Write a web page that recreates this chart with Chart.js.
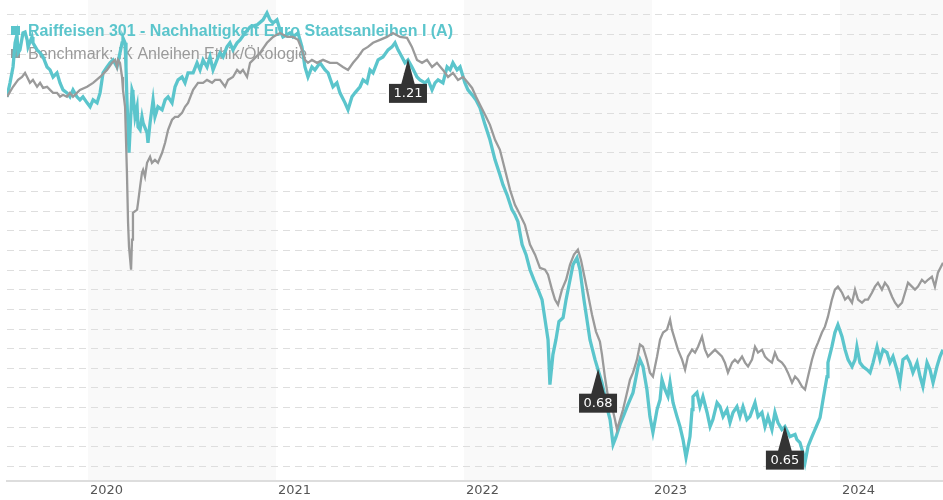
<!DOCTYPE html>
<html>
<head>
<meta charset="utf-8">
<title>Raiffeisen 301 - Nachhaltigkeit Euro Staatsanleihen I (A)</title>
<script src="https://cdn.jsdelivr.net/npm/chart.js@4.4.1/dist/chart.umd.min.js"></script>
<style>
  html, body { margin: 0; padding: 0; background: #fff; }
  #wrap { position: relative; width: 943px; height: 500px; }
</style>
</head>
<body>
<div id="wrap"><canvas id="perfChart"></canvas></div>
<script>
// performance in %, dates as decimal years
const fundName = 'Raiffeisen 301 - Nachhaltigkeit Euro Staatsanleihen I (A)';
const benchName = 'Benchmark: IX Anleihen Ethik/Ökologie';

const fundDates = [
  2019.569, 2019.585, 2019.601, 2019.612, 2019.622, 2019.628, 2019.638, 2019.654, 2019.665, 2019.676,
  2019.681, 2019.702, 2019.707, 2019.729, 2019.745, 2019.761, 2019.782, 2019.798, 2019.814, 2019.835,
  2019.851, 2019.867, 2019.888, 2019.904, 2019.920, 2019.941, 2019.957, 2019.973, 2019.995, 2020.011,
  2020.027, 2020.048, 2020.064, 2020.080, 2020.101, 2020.117, 2020.133, 2020.154, 2020.170, 2020.181,
  2020.186, 2020.197, 2020.202, 2020.207, 2020.218, 2020.229, 2020.234, 2020.239, 2020.250, 2020.261,
  2020.266, 2020.277, 2020.287, 2020.293, 2020.314, 2020.319, 2020.330, 2020.346, 2020.356, 2020.372,
  2020.394, 2020.410, 2020.426, 2020.447, 2020.463, 2020.479, 2020.500, 2020.516, 2020.532, 2020.559,
  2020.580, 2020.596, 2020.612, 2020.633, 2020.649, 2020.665, 2020.686, 2020.702, 2020.718, 2020.739,
  2020.755, 2020.771, 2020.793, 2020.809, 2020.835, 2020.862, 2020.899, 2020.931, 2020.952, 2020.968,
  2020.984, 2021.005, 2021.021, 2021.037, 2021.074, 2021.090, 2021.117, 2021.138, 2021.154, 2021.170,
  2021.191, 2021.207, 2021.234, 2021.261, 2021.277, 2021.303, 2021.324, 2021.340, 2021.367, 2021.383,
  2021.404, 2021.420, 2021.447, 2021.463, 2021.484, 2021.500, 2021.516, 2021.543, 2021.569, 2021.596,
  2021.617, 2021.633, 2021.649, 2021.670, 2021.686, 2021.702, 2021.723, 2021.750, 2021.766, 2021.793,
  2021.809, 2021.830, 2021.846, 2021.862, 2021.888, 2021.910, 2021.926, 2021.941, 2021.963, 2021.979,
  2022.005, 2022.021, 2022.043, 2022.064, 2022.085, 2022.112, 2022.138, 2022.165, 2022.191, 2022.207,
  2022.229, 2022.255, 2022.271, 2022.287, 2022.309, 2022.330, 2022.351, 2022.372, 2022.394, 2022.415,
  2022.431, 2022.447, 2022.457, 2022.473, 2022.489, 2022.505, 2022.527, 2022.543, 2022.564, 2022.580,
  2022.601, 2022.617, 2022.638, 2022.654, 2022.670, 2022.697, 2022.713, 2022.734, 2022.750, 2022.766,
  2022.777, 2022.793, 2022.809, 2022.830, 2022.851, 2022.872, 2022.899, 2022.926, 2022.936, 2022.952,
  2022.973, 2022.989, 2023.005, 2023.027, 2023.043, 2023.053, 2023.069, 2023.085, 2023.096, 2023.112,
  2023.133, 2023.149, 2023.165, 2023.181, 2023.202, 2023.213, 2023.218, 2023.239, 2023.255, 2023.271,
  2023.293, 2023.309, 2023.324, 2023.346, 2023.362, 2023.378, 2023.399, 2023.415, 2023.431, 2023.452,
  2023.468, 2023.484, 2023.505, 2023.521, 2023.548, 2023.564, 2023.585, 2023.601, 2023.617, 2023.638,
  2023.654, 2023.670, 2023.691, 2023.707, 2023.734, 2023.761, 2023.771, 2023.787, 2023.803, 2023.814,
  2023.830, 2023.851, 2023.867, 2023.883, 2023.894, 2023.910, 2023.931, 2023.936, 2023.957, 2023.973,
  2023.989, 2024.011, 2024.027, 2024.043, 2024.064, 2024.080, 2024.090, 2024.106, 2024.122, 2024.144,
  2024.160, 2024.176, 2024.197, 2024.213, 2024.229, 2024.250, 2024.266, 2024.282, 2024.303, 2024.319,
  2024.335, 2024.356, 2024.372, 2024.388, 2024.410, 2024.426, 2024.441, 2024.463, 2024.479, 2024.495,
  2024.516, 2024.532, 2024.548
];
const fundValues = [
  -0.17, 0.54, 1.35, 2.58, 2.98, 2.07, 2.22, 3.08, 3.13, 2.73,
  2.37, 2.88, 2.58, 2.22, 2.07, 1.86, 1.35, 1.20, 0.84, 1.05,
  0.54, 0.18, 0.03, -0.17, 0.18, -0.17, -0.33, -0.17, -0.48, -0.68,
  -0.33, -0.48, 0.03, 1.05, 1.35, 1.56, 1.71, 1.35, 2.07, 2.58,
  2.83, 2.58, 1.35, -0.33, -3.02, -0.83, 0.18, 0.03, -1.19, -0.68,
  -1.70, -1.85, -1.19, -1.50, -2.01, -2.51, -1.50, -0.33, -1.19, -0.68,
  -0.83, -0.33, -0.17, -0.48, 0.34, 0.69, 0.84, 0.54, 1.05, 1.05,
  1.56, 1.20, 1.71, 1.35, 1.86, 1.20, 1.71, 2.07, 1.86, 2.37,
  2.58, 2.22, 2.58, 2.73, 3.08, 3.39, 3.49, 3.75, 4.10, 3.75,
  3.59, 3.75, 3.24, 2.88, 3.08, 2.88, 3.08, 2.37, 1.35, 0.84,
  1.35, 1.20, 1.56, 1.20, 1.05, 0.34, 0.54, 0.03, -0.48, -0.83,
  -0.17, 0.03, 0.34, 0.69, 0.54, 1.20, 1.05, 1.71, 1.86, 2.22,
  2.37, 2.58, 2.22, 1.86, 1.56, 1.71, 1.35, 0.84, 0.69, 0.54,
  0.69, 0.18, 0.54, 0.69, 0.54, 1.35, 1.20, 1.56, 1.20, 1.35,
  0.54, 0.18, -0.07, -0.33, -0.73, -1.60, -2.36, -3.38, -4.14, -4.65,
  -5.16, -5.92, -6.18, -6.53, -7.70, -8.21, -8.98, -9.49, -9.99, -10.50,
  -11.52, -12.54, -14.83, -13.30, -12.54, -11.62, -11.42, -10.50, -9.49, -8.72,
  -8.37, -8.98, -10.50, -11.52, -12.54, -13.56, -14.07, -14.73, -15.44, -16.20,
  -16.61, -17.88, -17.48, -16.86, -16.36, -15.85, -15.24, -13.91, -13.56, -13.91,
  -15.08, -16.46, -17.27, -16.10, -15.59, -14.58, -15.08, -15.44, -14.73, -15.75,
  -16.46, -16.97, -17.63, -18.54, -17.48, -16.10, -15.44, -15.24, -15.95, -15.44,
  -16.25, -16.97, -16.61, -15.75, -15.95, -16.46, -16.10, -16.76, -16.25, -15.95,
  -16.46, -15.95, -16.61, -16.46, -15.75, -16.46, -16.25, -16.97, -16.46, -17.12,
  -16.25, -16.76, -17.12, -16.97, -17.48, -17.37, -17.63, -17.78, -18.29, -18.80,
  -17.98, -17.48, -17.12, -16.76, -16.51, -15.59, -14.42, -13.71, -12.90, -12.18,
  -11.78, -12.39, -13.05, -13.56, -13.91, -13.56, -12.90, -13.71, -13.91, -14.07,
  -14.22, -13.71, -12.90, -13.56, -13.05, -13.20, -13.71, -13.40, -14.07, -14.73,
  -13.56, -13.40, -13.71, -14.22, -13.71, -14.42, -14.93, -13.71, -14.07, -14.73,
  -13.91, -13.40, -13.05
];

const benchDates = [
  2019.569, 2019.601, 2019.628, 2019.649, 2019.665, 2019.676, 2019.691, 2019.707, 2019.729, 2019.745,
  2019.761, 2019.782, 2019.798, 2019.814, 2019.835, 2019.851, 2019.867, 2019.888, 2019.904, 2019.920,
  2019.941, 2019.957, 2019.995, 2020.027, 2020.064, 2020.101, 2020.128, 2020.144, 2020.154, 2020.160,
  2020.170, 2020.181, 2020.186, 2020.197, 2020.207, 2020.213, 2020.218, 2020.229, 2020.234, 2020.239,
  2020.261, 2020.266, 2020.277, 2020.287, 2020.293, 2020.303, 2020.314, 2020.330, 2020.340, 2020.356,
  2020.372, 2020.394, 2020.410, 2020.426, 2020.447, 2020.463, 2020.479, 2020.500, 2020.516, 2020.532,
  2020.559, 2020.585, 2020.612, 2020.633, 2020.660, 2020.676, 2020.702, 2020.729, 2020.745, 2020.771,
  2020.793, 2020.809, 2020.824, 2020.846, 2020.862, 2020.878, 2020.915, 2020.952, 2020.984, 2021.021,
  2021.059, 2021.090, 2021.117, 2021.138, 2021.154, 2021.170, 2021.191, 2021.218, 2021.250, 2021.287,
  2021.324, 2021.356, 2021.383, 2021.410, 2021.436, 2021.463, 2021.489, 2021.516, 2021.553, 2021.590,
  2021.622, 2021.660, 2021.697, 2021.723, 2021.750, 2021.777, 2021.803, 2021.830, 2021.856, 2021.888,
  2021.915, 2021.941, 2021.968, 2021.995, 2022.021, 2022.043, 2022.064, 2022.085, 2022.112, 2022.138,
  2022.165, 2022.191, 2022.218, 2022.245, 2022.271, 2022.298, 2022.324, 2022.351, 2022.378, 2022.404,
  2022.431, 2022.447, 2022.468, 2022.484, 2022.500, 2022.521, 2022.543, 2022.564, 2022.585, 2022.606,
  2022.622, 2022.644, 2022.660, 2022.681, 2022.702, 2022.723, 2022.734, 2022.750, 2022.766, 2022.787,
  2022.803, 2022.814, 2022.830, 2022.846, 2022.867, 2022.883, 2022.899, 2022.920, 2022.936, 2022.952,
  2022.973, 2022.989, 2023.005, 2023.027, 2023.043, 2023.059, 2023.080, 2023.096, 2023.106, 2023.122,
  2023.138, 2023.160, 2023.176, 2023.191, 2023.213, 2023.229, 2023.245, 2023.266, 2023.282, 2023.298,
  2023.319, 2023.335, 2023.351, 2023.372, 2023.388, 2023.404, 2023.426, 2023.441, 2023.457, 2023.479,
  2023.495, 2023.511, 2023.532, 2023.548, 2023.564, 2023.585, 2023.601, 2023.617, 2023.638, 2023.654,
  2023.670, 2023.691, 2023.707, 2023.723, 2023.745, 2023.761, 2023.777, 2023.798, 2023.814, 2023.830,
  2023.851, 2023.867, 2023.883, 2023.904, 2023.920, 2023.936, 2023.957, 2023.973, 2023.989, 2024.011,
  2024.027, 2024.043, 2024.064, 2024.080, 2024.096, 2024.117, 2024.133, 2024.149, 2024.170, 2024.186,
  2024.202, 2024.223, 2024.239, 2024.255, 2024.277, 2024.293, 2024.309, 2024.330, 2024.346, 2024.362,
  2024.383, 2024.399, 2024.415, 2024.436, 2024.452, 2024.468, 2024.489, 2024.505, 2024.521, 2024.548
];
const benchValues = [
  -0.17, 0.34, 0.69, 0.84, 1.05, 0.84, 0.54, 0.69, 0.34, 0.54,
  0.28, 0.34, 0.18, 0.03, 0.03, -0.17, -0.07, -0.17, 0.03, -0.17,
  0.03, 0.18, 0.34, 0.54, 0.84, 1.20, 1.56, 1.71, 1.35, 1.71,
  1.56, 0.84, 0.18, -0.68, -4.04, -6.59, -7.81, -8.98, -7.45, -6.08,
  -5.92, -5.57, -4.75, -4.04, -3.89, -4.24, -3.53, -3.23, -3.53, -3.38,
  -3.53, -3.02, -2.51, -1.85, -1.34, -1.19, -1.19, -0.99, -0.68, -0.48,
  0.18, 0.54, 0.54, 0.69, 0.54, 0.69, 0.69, 0.34, 0.69, 0.84,
  1.20, 1.05, 1.20, 0.84, 1.56, 1.71, 2.07, 2.58, 2.88, 3.08,
  2.88, 2.88, 2.73, 2.22, 1.71, 1.56, 1.71, 1.56, 1.71, 1.56,
  1.56, 1.35, 1.20, 1.56, 1.86, 2.22, 2.37, 2.58, 2.73, 2.88,
  3.08, 2.88, 2.83, 2.37, 1.71, 1.56, 1.71, 1.35, 1.56, 1.20,
  0.84, 1.05, 0.69, 0.84, 0.54, 0.28, -0.17, -0.58, -1.09, -1.60,
  -2.36, -2.87, -3.89, -4.91, -5.67, -6.18, -6.69, -7.70, -8.21, -8.88,
  -8.98, -9.23, -9.99, -10.50, -10.76, -9.99, -9.49, -8.72, -8.21, -7.96,
  -8.47, -9.49, -10.25, -11.27, -12.13, -12.64, -13.30, -14.47, -15.44, -15.95,
  -16.61, -17.12, -16.61, -16.10, -15.24, -14.58, -14.22, -13.56, -12.79, -12.90,
  -13.56, -14.22, -14.42, -13.40, -12.54, -12.18, -12.03, -11.52, -12.03, -12.54,
  -13.05, -13.56, -14.07, -13.40, -13.05, -13.20, -12.90, -12.39, -13.05, -13.40,
  -13.20, -13.05, -13.20, -13.40, -13.71, -14.22, -13.71, -13.56, -13.71, -13.40,
  -13.71, -13.91, -13.56, -12.90, -13.20, -13.05, -13.40, -13.56, -13.71, -13.20,
  -13.56, -13.71, -13.91, -14.22, -14.73, -14.42, -14.58, -14.93, -15.08, -14.42,
  -13.56, -13.05, -12.69, -12.18, -11.88, -11.37, -10.50, -9.99, -9.84, -10.15,
  -10.50, -10.35, -10.66, -9.99, -10.50, -10.66, -10.50, -10.50, -10.15, -9.84,
  -9.64, -9.99, -9.64, -9.84, -10.35, -10.66, -10.86, -10.66, -10.15, -9.64,
  -9.84, -9.99, -9.84, -9.49, -9.64, -9.49, -9.33, -9.84, -9.13, -8.62
];

// distribution markers on the fund line
const markerDates = [2021.702, 2022.713, 2023.707];
const markerLabels = ['1.21', '0.68', '0.65'];

const yearTicks = [2020, 2021, 2022, 2023, 2024];
const shadedYears = [2020, 2022, 2024];
const gridValues = [];
for (let v = -19; v <= 4; v++) gridValues.push(v);

const fundColor = '#5bc5cc';
const benchColor = '#9a9a9a';

function toPoints(dates, values) {
  return dates.map((d, i) => ({ x: d, y: values[i] }));
}

function fundValueAt(date) {
  let best = 0;
  fundDates.forEach((d, i) => {
    if (Math.abs(d - date) < Math.abs(fundDates[best] - date)) best = i;
  });
  return fundValues[best];
}

const yearBands = {
  id: 'yearBands',
  beforeDraw(chart) {
    const { ctx, chartArea, scales: { x } } = chart;
    ctx.save();
    ctx.fillStyle = '#f9f9f9';
    shadedYears.forEach(year => {
      const left = Math.max(x.getPixelForValue(year), chartArea.left);
      const right = Math.min(x.getPixelForValue(year + 1), chartArea.right);
      if (right > left) {
        ctx.fillRect(left, chartArea.top, right - left, chartArea.bottom - chartArea.top);
      }
    });
    ctx.restore();
  }
};

const seriesLegend = {
  id: 'seriesLegend',
  beforeDatasetsDraw(chart) {
    const ctx = chart.ctx;
    const rows = [
      { text: fundName, color: fundColor, font: 'bold 16px "Liberation Sans", Arial, sans-serif', y: 36 },
      { text: benchName, color: benchColor, font: '16px "Liberation Sans", Arial, sans-serif', y: 59 }
    ];
    ctx.save();
    ctx.textBaseline = 'alphabetic';
    ctx.textAlign = 'left';
    rows.forEach(r => {
      ctx.fillStyle = r.color;
      ctx.fillRect(11, r.y - 10, 9, 9);
      ctx.font = r.font;
      ctx.fillText(r.text, 28, r.y);
    });
    ctx.restore();
  }
};

const dividendMarkers = {
  id: 'dividendMarkers',
  afterDatasetsDraw(chart) {
    const { ctx, scales: { x, y } } = chart;
    ctx.save();
    ctx.font = '13px "DejaVu Sans", sans-serif';
    ctx.textAlign = 'center';
    ctx.textBaseline = 'middle';
    markerDates.forEach((date, i) => {
      const px = x.getPixelForValue(date);
      const tip = y.getPixelForValue(fundValueAt(date)) - 1;
      const boxTop = tip + 25;
      ctx.fillStyle = '#333333';
      ctx.beginPath();
      ctx.moveTo(px, tip);
      ctx.lineTo(px + 7, boxTop + 1);
      ctx.lineTo(px - 7, boxTop + 1);
      ctx.closePath();
      ctx.fill();
      ctx.fillRect(px - 19, boxTop, 38, 19);
      ctx.fillStyle = '#ffffff';
      ctx.fillText(markerLabels[i], px, boxTop + 10);
    });
    ctx.restore();
  }
};

new Chart(document.getElementById('perfChart'), {
  type: 'line',
  data: {
    datasets: [
      {
        label: fundName,
        data: toPoints(fundDates, fundValues),
        borderColor: fundColor,
        borderWidth: 3.3,
        pointRadius: 0,
        tension: 0,
        order: 2
      },
      {
        label: benchName,
        data: toPoints(benchDates, benchValues),
        borderColor: benchColor,
        borderWidth: 2.3,
        pointRadius: 0,
        tension: 0,
        order: 1
      }
    ]
  },
  options: {
    responsive: true,
    maintainAspectRatio: false,
    animation: false,
    events: [],
    layout: { padding: { left: 7, right: 0, top: 0, bottom: 1 } },
    plugins: {
      legend: { display: false },
      tooltip: { enabled: false }
    },
    scales: {
      x: {
        type: 'linear',
        min: 2019.569,
        max: 2024.548,
        afterBuildTicks: axis => { axis.ticks = yearTicks.map(v => ({ value: v })); },
        grid: { drawOnChartArea: false, drawTicks: false },
        border: { display: true, color: '#dddddd', width: 2 },
        ticks: {
          autoSkip: false,
          maxRotation: 0,
          align: 'start',
          labelOffset: 2,
          padding: 1,
          color: '#555555',
          font: { family: '"DejaVu Sans", sans-serif', size: 13 },
          callback: v => String(v)
        }
      },
      y: {
        min: -19.76,
        max: 4.76,
        afterBuildTicks: axis => { axis.ticks = gridValues.map(v => ({ value: v })); },
        grid: { color: '#dedede', lineWidth: 1, drawTicks: false },
        border: { display: false, dash: [7, 5] },
        ticks: { display: false }
      }
    }
  },
  plugins: [yearBands, seriesLegend, dividendMarkers]
});
</script>
</body>
</html>
